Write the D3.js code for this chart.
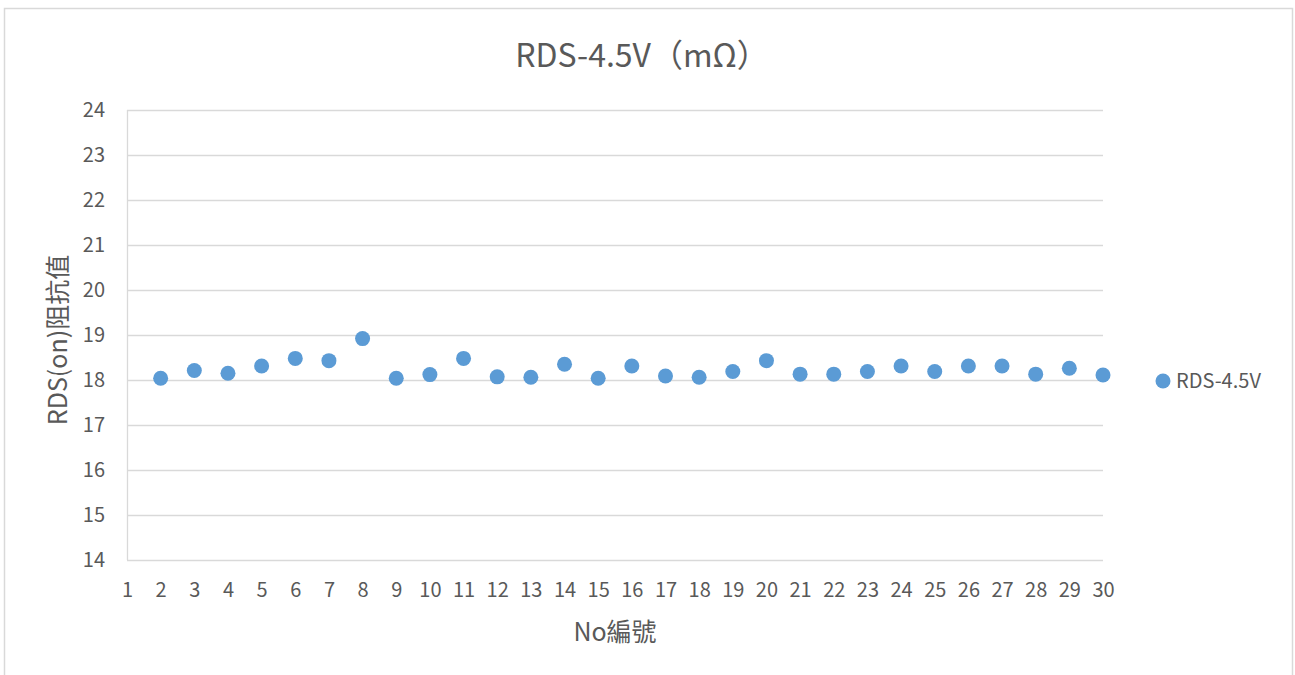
<!DOCTYPE html>
<html>
<head>
<meta charset="utf-8">
<script src="https://cdn.jsdelivr.net/npm/d3@7/dist/d3.min.js"></script>
<style>
  html, body { margin: 0; padding: 0; background: #fff; }
  svg { display: block; }
  text { font-family: "Noto Sans CJK TC", "Noto Sans", sans-serif; fill: #595959; }
</style>
</head>
<body>
<script>
const title = "RDS-4.5V（mΩ）";
const seriesName = "RDS-4.5V";
const xTitle = "No編號";
const yTitle = "RDS(on)阻抗值";
const sampleNo = [2,3,4,5,6,7,8,9,10,11,12,13,14,15,16,17,18,19,20,21,22,23,24,25,26,27,28,29,30];
const rdsValues = [18.04,18.21,18.15,18.31,18.48,18.43,18.92,18.04,18.12,18.48,18.07,18.06,18.35,18.04,18.31,18.09,18.06,18.19,18.43,18.13,18.13,18.19,18.31,18.19,18.31,18.31,18.13,18.26,18.11];
const xTicks = d3.range(1, 31);
const yTicks = [14,15,16,17,18,19,20,21,22,23,24];

const W = 1295, H = 675;
const svg = d3.select("body").append("svg").attr("width", W).attr("height", H);

// chart frame
svg.append("rect").attr("x", 4.5).attr("y", 8.5).attr("width", 1288).attr("height", 700)
  .attr("fill", "none").attr("stroke", "#d9d9d9").attr("stroke-width", 1.5);

const x = d3.scaleLinear().domain([1, 30]).range([127, 1103]);
const y = d3.scaleLinear().domain([14, 24]).range([560, 110]);

// gridlines
svg.append("g").selectAll("line").data(yTicks).join("line")
  .attr("x1", 127).attr("x2", 1103)
  .attr("y1", d => y(d) + 0.5).attr("y2", d => y(d) + 0.5)
  .attr("stroke", "#d9d9d9").attr("stroke-width", 1.3);

// y axis line
svg.append("line").attr("x1", 127.5).attr("x2", 127.5).attr("y1", 110).attr("y2", 560)
  .attr("stroke", "#d9d9d9").attr("stroke-width", 1.3);

// y tick labels
const yAxis = d3.axisLeft(y).tickValues(yTicks).tickSize(0).tickPadding(0);
const gy = svg.append("g").attr("transform", "translate(105,0)").call(yAxis);
gy.select(".domain").remove();
gy.selectAll("text").attr("font-size", 20).attr("fill", "#595959")
  .style("font-family", "'Noto Sans CJK TC', sans-serif");

// x tick labels
const xAxis = d3.axisBottom(x).tickValues(xTicks).tickSize(0).tickPadding(0).tickFormat(d3.format("d"));
const gx = svg.append("g").attr("transform", "translate(0,583)").call(xAxis);
gx.select(".domain").remove();
gx.selectAll("text").attr("font-size", 20).attr("fill", "#595959")
  .style("font-family", "'Noto Sans CJK TC', sans-serif");

// points
svg.append("g").selectAll("circle").data(sampleNo.map((n, i) => [n, rdsValues[i]])).join("circle")
  .attr("cx", d => x(d[0])).attr("cy", d => y(d[1])).attr("r", 7.5)
  .attr("fill", "#5b9bd5");

// title
svg.append("text").attr("x", 642).attr("y", 67).attr("text-anchor", "middle")
  .attr("font-size", 32).text(title);

// axis titles
svg.append("text").attr("x", 615).attr("y", 641).attr("text-anchor", "middle")
  .attr("font-size", 25).text(xTitle);
svg.append("text").attr("transform", "translate(67,340) rotate(-90)").attr("text-anchor", "middle")
  .attr("font-size", 25).text(yTitle);

// legend
svg.append("circle").attr("cx", 1163).attr("cy", 381).attr("r", 7.5).attr("fill", "#5b9bd5");
svg.append("text").attr("x", 1176).attr("y", 388).attr("font-size", 20).text(seriesName);
</script>
</body>
</html>
